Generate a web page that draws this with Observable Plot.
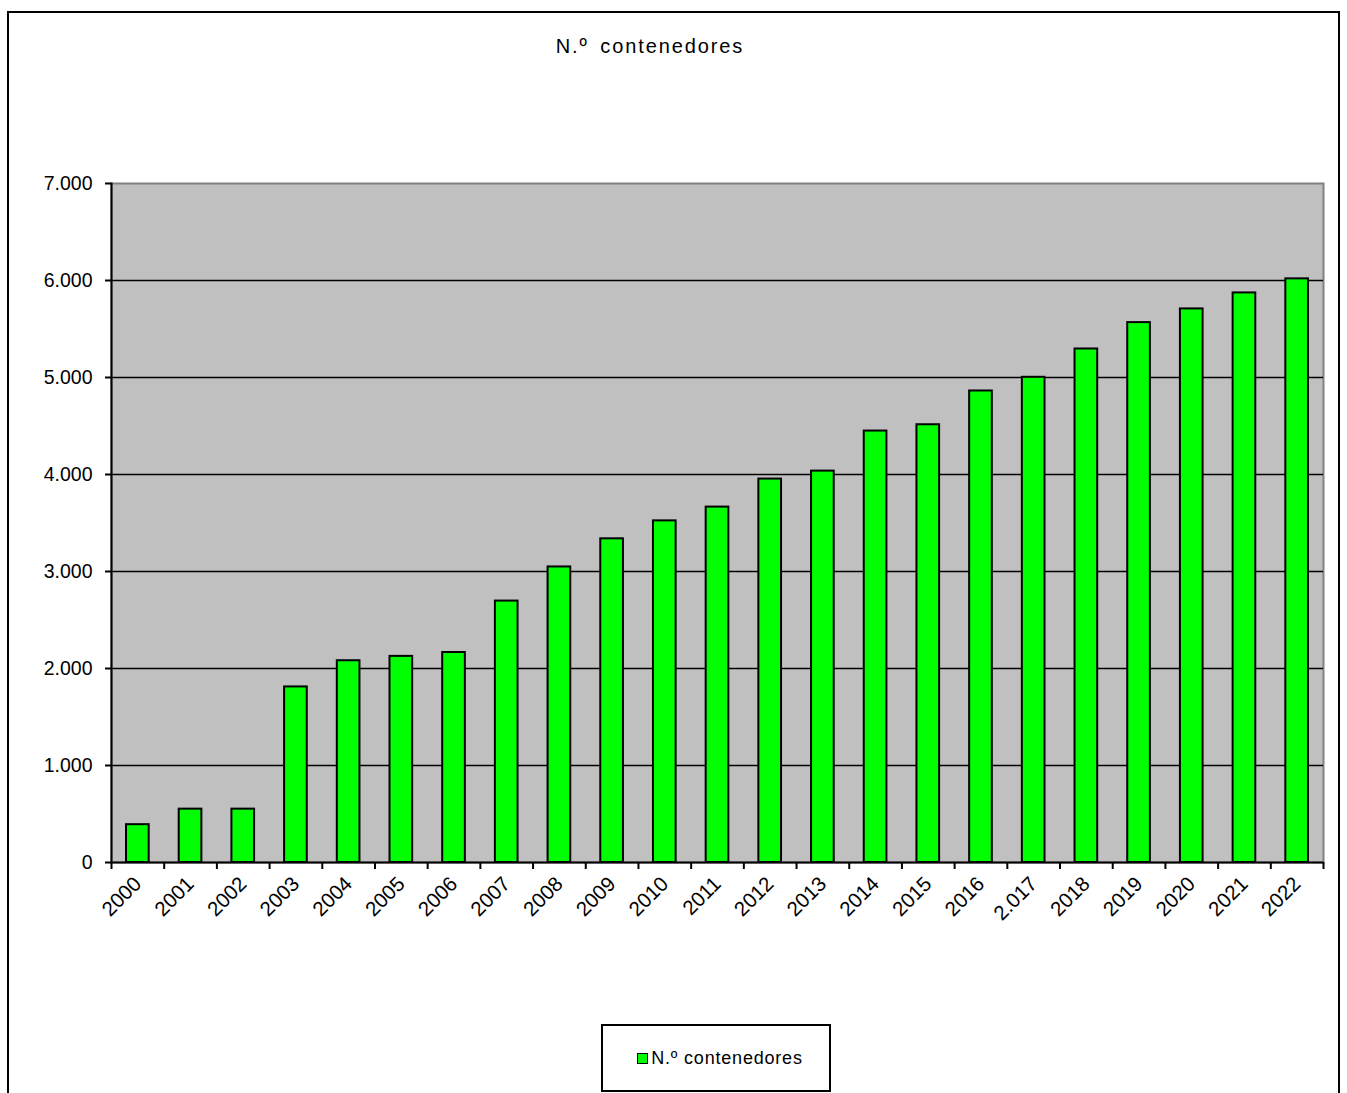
<!DOCTYPE html>
<html>
<head>
<meta charset="utf-8">
<script src="https://cdn.jsdelivr.net/npm/d3@7"></script>
<script src="https://cdn.jsdelivr.net/npm/@observablehq/plot@0.6"></script>
<style>
  html, body { margin: 0; padding: 0; background: #fff; width: 1347px; height: 1093px; overflow: hidden; }
  body { position: relative; font-family: "Liberation Sans", Arial, sans-serif; }
  #outer { position: absolute; left: 7px; top: 11px; width: 1333px; height: 1100px; border: 2px solid #000; box-sizing: border-box; }
  #title { position: absolute; left: 450px; width: 400px; top: 35px; text-align: center; font-size: 20px; letter-spacing: 1.9px; word-spacing: 4px; color: #000; }
  #chart { position: absolute; left: 0; top: 150px; }
  #legend { position: absolute; left: 601px; top: 1024px; width: 230px; height: 68px; border: 2px solid #000; box-sizing: border-box; background: #fff; display: flex; align-items: center; justify-content: center; font-size: 18px; letter-spacing: 0.8px; padding-left: 8px; }
  #legend .sw { display: inline-block; width: 9px; height: 9px; background: #00FF00; border: 1.5px solid #000; margin-right: 3px; }
</style>
</head>
<body>
<div id="outer"></div>
<div id="title">N.º contenedores</div>
<div id="chart"></div>
<div id="legend"><span class="sw"></span><span>N.º contenedores</span></div>
<script>
const years = ["2000","2001","2002","2003","2004","2005","2006","2007","2008","2009","2010","2011","2012","2013","2014","2015","2016","2017","2018","2019","2020","2021","2022"];
const tickLabels = ["2000","2001","2002","2003","2004","2005","2006","2007","2008","2009","2010","2011","2012","2013","2014","2015","2016","2.017","2018","2019","2020","2021","2022"];
const contenedores = [390, 550, 550, 1810, 2080, 2125, 2165, 2695, 3047, 3337, 3522, 3664, 3953, 4035, 4448, 4513, 4861, 5002, 5294, 5566, 5707, 5872, 6017];
const yTicks = [0, 1000, 2000, 3000, 4000, 5000, 6000, 7000];
const gridTicks = [1000, 2000, 3000, 4000, 5000, 6000];

const data = years.map((y, i) => ({year: y, value: contenedores[i]}));
const labelOf = new Map(years.map((y, i) => [y, tickLabels[i]]));
const fmt = d3.formatLocale({decimal: ",", thousands: ".", grouping: [3], currency: ["", ""]}).format(",");

const W = 1347, H = 800, mL = 111, mR = 24, mT = 33, mB = 88;
const step = (W - mL - mR) / years.length;

const chart = Plot.plot({
  width: W,
  height: H,
  marginLeft: mL,
  marginRight: mR,
  marginTop: mT,
  marginBottom: mB,
  style: {fontFamily: "'Liberation Sans', Arial, sans-serif", fontSize: "19px", color: "#000", background: "transparent"},
  x: {type: "band", domain: years, paddingInner: 0.57, paddingOuter: 0.285, round: false, axis: null},
  y: {domain: [0, 7000], axis: null},
  marks: [
    Plot.frame({fill: "#C0C0C0", stroke: "#808080", strokeWidth: 2}),
    Plot.ruleY(gridTicks, {stroke: "#000", strokeWidth: 1.6}),
    Plot.barY(data, {x: "year", y: "value", fill: "#00FF00", stroke: "#000", strokeWidth: 2}),
    Plot.ruleY([0], {stroke: "#000", strokeWidth: 2}),
    Plot.frame({anchor: "left", stroke: "#000", strokeWidth: 2}),
    Plot.axisY(yTicks, {label: null, tickSize: 6, tickPadding: 13, tickFormat: fmt, fontSize: 19.5, stroke: "#000", strokeWidth: 2}),
    Plot.axisX(years, {label: null, tickSize: 7, dx: -step / 2, tickFormat: () => "", stroke: "#000", strokeWidth: 2}),
    Plot.axisX([years[years.length - 1]], {label: null, tickSize: 7, dx: step / 2, tickFormat: () => "", stroke: "#000", strokeWidth: 2}),
    Plot.axisX(years, {label: null, tickSize: 0, tickPadding: 18, tickRotate: -45, tickFormat: d => labelOf.get(d), fontSize: 20.5})
  ]
});
document.getElementById("chart").appendChild(chart);
</script>
</body>
</html>
